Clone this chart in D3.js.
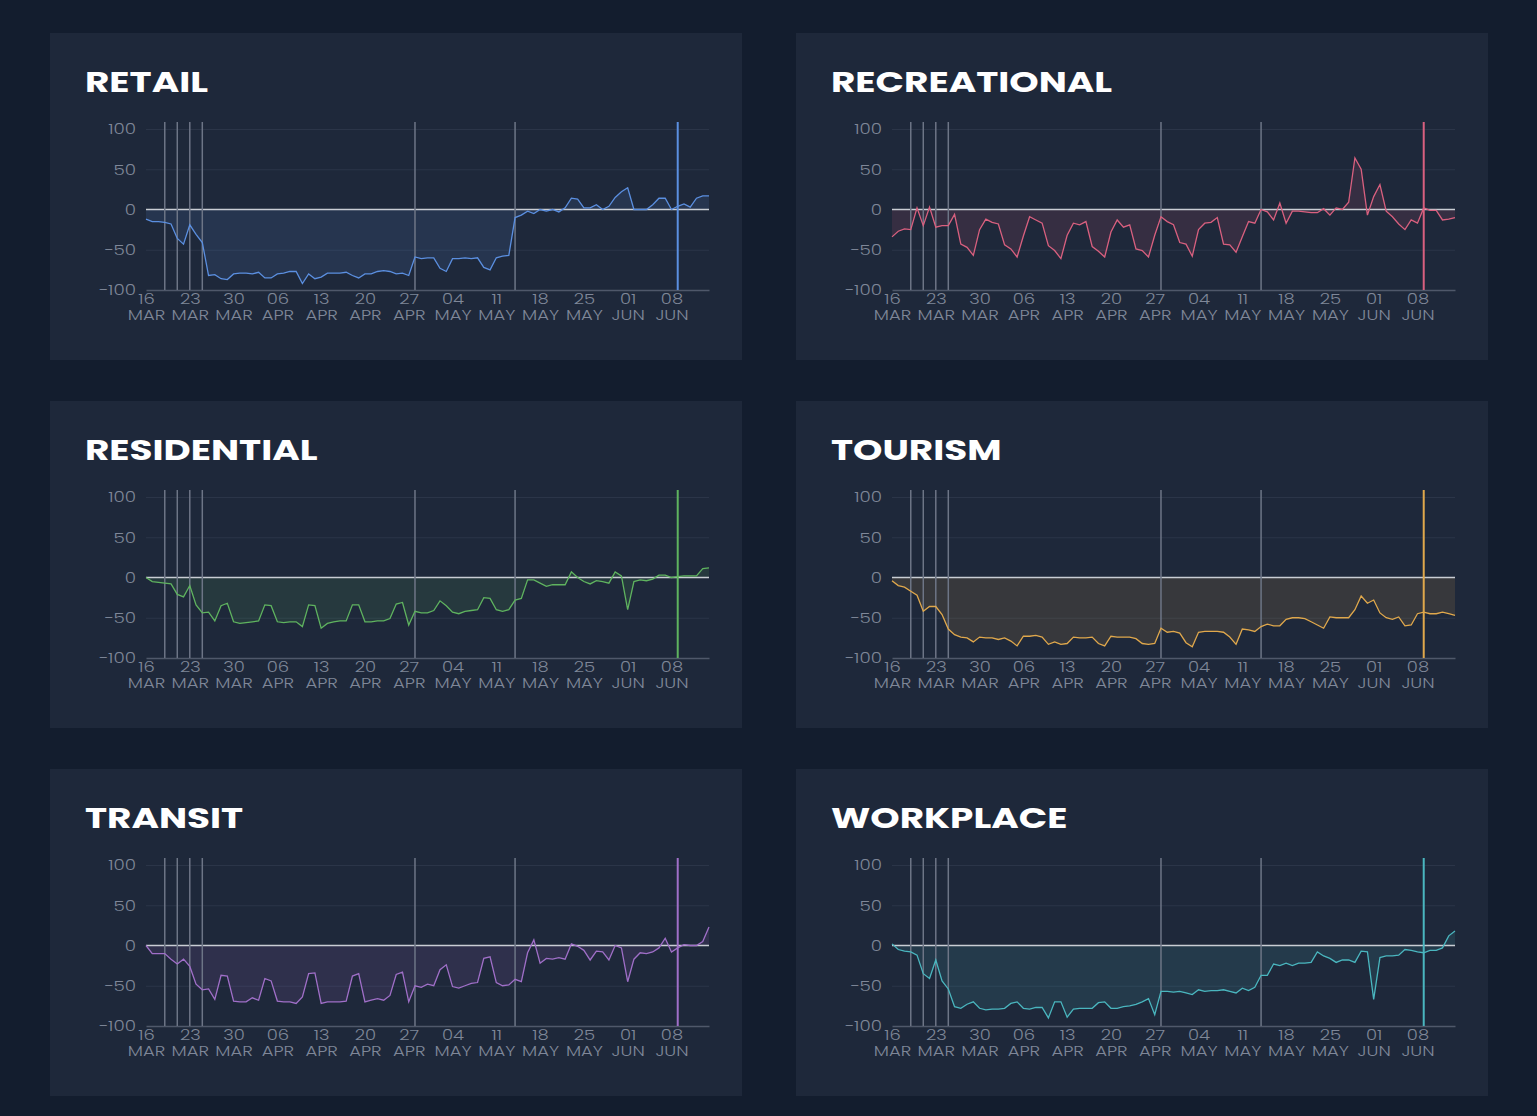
<html>
  <head>
    <meta charset="utf-8" />
    <script src="https://d3js.org/d3.v7.min.js"></script>
    <style>
      body { margin: 0; background: #131d2e; }
      text { font-family: Poppins, Lato, "Noto Sans", sans-serif; }
    </style>
  </head>
  <body>
    <svg width="1537" height="1116" id="chart"></svg>
    <script>
      // categories, in reading order (two per row)
      const categories = ["RETAIL", "RECREATIONAL", "RESIDENTIAL", "TOURISM", "TRANSIT", "WORKPLACE"];
      const colors = ["#5b8fe0", "#d9607f", "#5fb35f", "#e0a84c", "#a06fc8", "#4ab6bf"];

      // one value per day, 16 MAR .. 14 JUN 2020 (% change vs baseline)
      const retail = [-12, -15, -15, -16, -18, -36, -43, -19, -31, -41, -82, -81, -86, -87, -80, -79, -79, -80, -78, -85,
        -85, -80, -79, -77, -77, -92, -80, -86, -84, -79, -79, -79, -78, -82, -85, -80, -80, -77, -76, -77,
        -80, -79, -82, -59, -61, -60, -60, -73, -77, -61, -61, -60, -61, -60, -72, -75, -60, -58, -57, -10,
        -7, -2, -5, 0, -2, 0, -3, 2, 14, 13, 2, 2, 6, 0, 4, 15, 22, 27, 0, 0,
        0, 6, 14, 14, 0, 4, 7, 3, 14, 17, 17];
      const recreational = [-34, -27, -24, -25, 2, -20, 3, -22, -20, -20, -6, -43, -47, -57, -25, -12, -16, -18, -44, -49,
        -59, -33, -9, -13, -17, -45, -51, -61, -32, -17, -19, -15, -46, -52, -59, -28, -13, -22, -19, -49,
        -51, -59, -32, -9, -15, -19, -41, -43, -58, -25, -17, -16, -10, -43, -44, -53, -34, -15, -17, 0,
        -3, -13, 8, -17, -2, -2, -3, -4, -4, 1, -7, 2, 0, 9, 64, 50, -7, 16, 31, -2,
        -9, -18, -25, -13, -17, 2, -1, -1, -13, -12, -10];
      const residential = [0, -5, -6, -7, -8, -21, -24, -10, -34, -44, -43, -54, -35, -32, -55, -57, -56, -55, -54, -34,
        -35, -55, -56, -55, -55, -61, -34, -35, -63, -57, -55, -54, -54, -34, -34, -55, -55, -54, -54, -51,
        -33, -31, -59, -42, -44, -44, -41, -29, -35, -43, -45, -42, -41, -40, -25, -26, -40, -42, -40, -28,
        -26, -3, -3, -7, -11, -9, -9, -9, 7, 0, -5, -8, -4, -5, -7, 7, 2, -40, -5, -3,
        -4, -2, 3, 3, 0, 1, 2, 2, 2, 11, 12];
      const tourism = [-4, -10, -12, -17, -22, -42, -36, -36, -46, -64, -71, -74, -75, -80, -74, -75, -75, -77, -75, -79,
        -85, -73, -73, -72, -74, -83, -80, -83, -82, -74, -75, -75, -74, -82, -85, -73, -74, -74, -74, -76,
        -82, -83, -82, -63, -68, -67, -69, -81, -86, -68, -67, -67, -67, -68, -74, -83, -64, -65, -67, -61,
        -58, -60, -60, -52, -50, -50, -51, -55, -59, -63, -49, -50, -50, -50, -40, -23, -32, -28, -44, -50,
        -52, -49, -60, -59, -45, -43, -45, -45, -43, -45, -47];
      const transit = [0, -10, -10, -10, -17, -23, -17, -26, -48, -55, -54, -67, -37, -38, -69, -70, -70, -65, -68, -41,
        -44, -69, -70, -70, -72, -64, -35, -34, -72, -70, -70, -70, -69, -38, -35, -70, -68, -66, -68, -62,
        -36, -33, -70, -50, -52, -48, -50, -30, -24, -51, -53, -50, -47, -46, -16, -14, -46, -50, -49, -42,
        -45, -9, 7, -22, -16, -17, -15, -17, 2, -1, -6, -18, -7, -8, -18, 0, -3, -45, -17, -9,
        -10, -8, -3, 9, -8, -3, 1, 0, 0, 5, 23];
      const workplace = [2, -5, -7, -8, -12, -35, -41, -18, -44, -54, -76, -78, -73, -70, -78, -80, -79, -79, -78, -72,
        -70, -78, -79, -77, -77, -90, -70, -70, -89, -79, -78, -78, -78, -71, -70, -78, -78, -76, -75, -73,
        -70, -66, -86, -57, -57, -58, -57, -59, -61, -55, -57, -56, -56, -55, -57, -59, -53, -56, -52, -37,
        -37, -23, -25, -22, -25, -22, -22, -21, -8, -13, -16, -21, -18, -18, -21, -7, -8, -67, -15, -13,
        -13, -12, -5, -6, -8, -9, -6, -6, -3, 12, 18];
      const seriesValues = [retail, recreational, residential, tourism, transit, workplace];

      const startDate = new Date(2020, 2, 16);
      const endDate = new Date(2020, 5, 14);
      const yTicks = [-100, -50, 0, 50, 100];
      // gray marker lines, plus a coloured one on the last marked day
      const eventDates = [new Date(2020, 2, 19), new Date(2020, 2, 21), new Date(2020, 2, 23),
        new Date(2020, 2, 25), new Date(2020, 3, 28), new Date(2020, 4, 14)];
      const highlightDate = new Date(2020, 5, 9);

      const svg = d3.select("svg#chart");
      svg.append("rect").attr("width", 1537).attr("height", 1116).attr("fill", "#131d2e");

      const panelW = 692, panelH = 327;
      const panelX = [50, 796];
      const panelY = [33, 401, 769];
      const margin = { left: 96, right: 33, top: 96, bottom: 70 };

      const dayOf = (i) => d3.timeDay.offset(startDate, i);

      const xScale = d3.scaleTime().domain([startDate, endDate]).range([margin.left, panelW - margin.right]);
      const yScale = d3.scaleLinear().domain([-100, 100]).range([panelH - margin.bottom, margin.top]);
      const xTicks = d3.timeDay.range(startDate, endDate, 7);

      categories.forEach((name, k) => {
        const values = seriesValues[k];
        const color = colors[k];
        const g = svg.append("g")
          .attr("transform", `translate(${panelX[k % 2]}, ${panelY[Math.floor(k / 2)]})`);

        g.append("rect").attr("width", panelW).attr("height", panelH).attr("fill", "#1e283a");

        // title is drawn a bit wide, like the original
        g.append("text")
          .attr("transform", "translate(35, 59) scale(1.335, 1)")
          .attr("fill", "#ffffff")
          .style("font-size", "28px").style("font-weight", 700)
          .text(name);

        // horizontal gridlines
        const grid = g.append("g")
          .attr("transform", `translate(${margin.left}, 0)`)
          .call(d3.axisLeft(yScale).tickValues([-50, 50, 100]).tickSize(-(panelW - margin.right - margin.left)).tickFormat(""));
        grid.select(".domain").remove();
        grid.selectAll("line").attr("stroke", "#2b3548").attr("stroke-width", 1);

        // y labels
        const yAxis = g.append("g")
          .attr("transform", `translate(${margin.left}, 0)`)
          .call(d3.axisLeft(yScale).tickValues(yTicks).tickSize(0).tickPadding(10));
        yAxis.select(".domain").remove();
        yAxis.selectAll("text")
          .attr("x", 0)
          .attr("transform", "translate(-10, 0) scale(1.22, 1)")
          .attr("fill", "#7f8798")
          .style("font-size", "15px").style("font-weight", 300)
          .style("font-family", "Poppins, Lato, 'Noto Sans', sans-serif");

        // area between series and zero
        const pts = values.map((v, i) => ({ date: dayOf(i), v: v }));
        g.append("path")
          .datum(pts)
          .attr("fill", color).attr("fill-opacity", 0.13)
          .attr("d", d3.area().x((d) => xScale(d.date)).y0(yScale(0)).y1((d) => yScale(d.v)));

        // x axis with two-line labels (day, then month)
        const xAxis = g.append("g")
          .attr("transform", `translate(0, ${yScale(-100)})`)
          .call(d3.axisBottom(xScale).tickValues(xTicks).tickSize(0).tickFormat(""));
        xAxis.select(".domain").attr("stroke", "#4f586a").attr("stroke-width", 1.5);
        const ticks = xAxis.selectAll(".tick");
        [["%d", 14], ["%b", 30]].forEach(([fmt, dy]) => {
          ticks.append("text")
            .attr("fill", "#7f8798")
            .attr("text-anchor", "middle")
            .attr("transform", `translate(0, ${dy}) scale(1.2, 1)`)
            .style("font-size", "15px").style("font-weight", 300)
            .style("font-family", "Poppins, Lato, 'Noto Sans', sans-serif")
            .text((d) => d3.timeFormat(fmt)(d).toUpperCase());
        });

        // zero line
        g.append("line")
          .attr("x1", margin.left).attr("x2", panelW - margin.right)
          .attr("y1", yScale(0)).attr("y2", yScale(0))
          .attr("stroke", "#c9cdd4").attr("stroke-width", 1.5);

        // event markers
        g.selectAll(".event").data(eventDates).join("line")
          .attr("x1", (d) => xScale(d)).attr("x2", (d) => xScale(d))
          .attr("y1", margin.top - 7).attr("y2", yScale(-100))
          .attr("stroke", "#6d7586").attr("stroke-width", 1.5);

        g.append("line")
          .attr("x1", xScale(highlightDate)).attr("x2", xScale(highlightDate))
          .attr("y1", margin.top - 7).attr("y2", yScale(-100))
          .attr("stroke", color).attr("stroke-width", 2);

        g.append("path")
          .datum(pts)
          .attr("fill", "none").attr("stroke", color).attr("stroke-width", 1.3)
          .attr("d", d3.line().x((d) => xScale(d.date)).y((d) => yScale(d.v)));
      });
    </script>
  </body>
</html>
